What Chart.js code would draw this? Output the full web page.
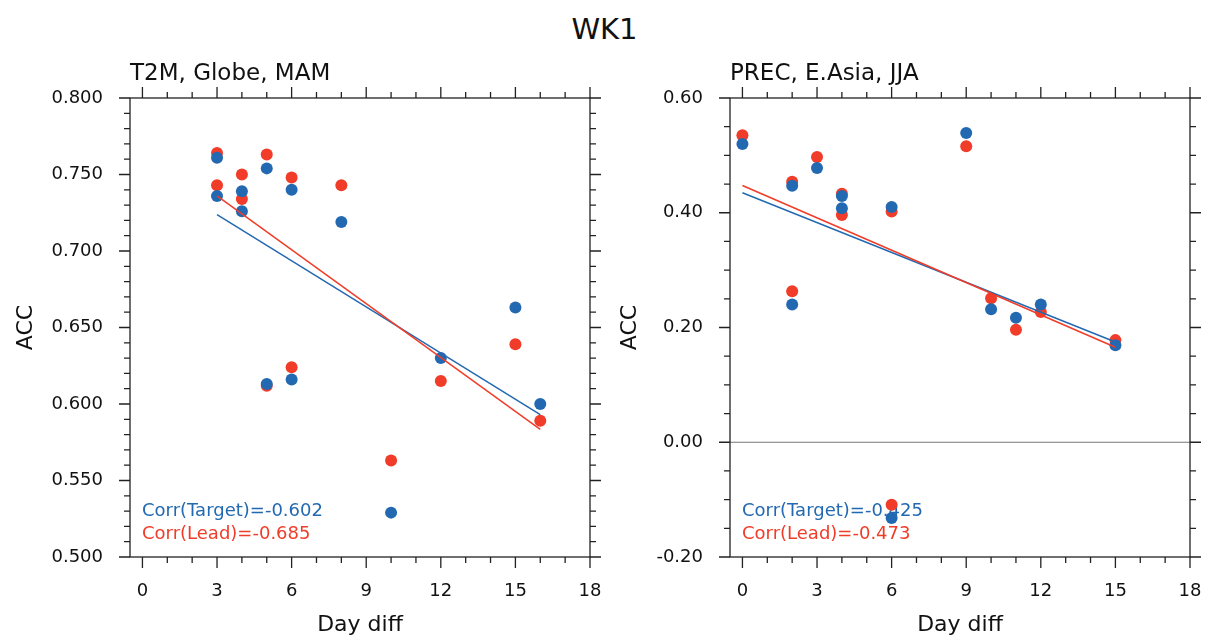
<!DOCTYPE html>
<html>
<head>
<meta charset="utf-8">
<script src="https://cdn.jsdelivr.net/npm/chart.js@4.4.1/dist/chart.umd.min.js"></script>
<style>
  body { margin: 0; background: #fff; }
  #wrap { position: relative; width: 1209px; height: 641px; }
  #title { position: absolute; left: 0; top: 12px; width: 1209px; text-align: center;
           font: 29px 'DejaVu Sans'; line-height: 34px; color: #111; }
  canvas { position: absolute; top: 0; }
</style>
</head>
<body>
<div id="wrap">
  <div id="title">WK1</div>
  <canvas id="left" width="604" height="641" style="left:0"></canvas>
  <canvas id="right" width="605" height="641" style="left:604px"></canvas>
</div>
<script>
// T2M, Globe, MAM
let t2mDays = [3, 3, 4, 4, 5, 5, 6, 6, 8, 10, 12, 15, 16];
let t2mTarget = [0.761, 0.736, 0.739, 0.726, 0.754, 0.613, 0.740, 0.616, 0.719, 0.529, 0.630, 0.663, 0.600];
let t2mLead = [0.764, 0.743, 0.750, 0.734, 0.763, 0.612, 0.748, 0.624, 0.743, 0.563, 0.615, 0.639, 0.589];
let t2mCorr = ['Corr(Target)=-0.602', 'Corr(Lead)=-0.685'];

// PREC, E.Asia, JJA
let precDays = [0, 2, 2, 3, 4, 4, 6, 6, 9, 10, 11, 12, 15];
let precTarget = [0.520, 0.447, 0.240, 0.478, 0.429, 0.408, 0.410, -0.132, 0.539, 0.232, 0.217, 0.240, 0.169];
let precLead = [0.535, 0.454, 0.263, 0.497, 0.433, 0.396, 0.402, -0.109, 0.516, 0.251, 0.196, 0.227, 0.178];
let precCorr = ['Corr(Target)=-0.425', 'Corr(Lead)=-0.473'];

let xTicks = [0, 3, 6, 9, 12, 15, 18];
let t2mTicks = [0.50, 0.55, 0.60, 0.65, 0.70, 0.75, 0.80];
let precTicks = [-0.2, 0.0, 0.2, 0.4, 0.6];

let blue = '#2369b1';
let red = '#f03c28';
let font = 'DejaVu Sans';

function pts(xs, ys) {
  return xs.map((x, i) => ({ x: x, y: ys[i] }));
}

// least squares line, drawn from first to last day
function fit(xs, ys) {
  let n = xs.length;
  let mx = xs.reduce((a, b) => a + b, 0) / n;
  let my = ys.reduce((a, b) => a + b, 0) / n;
  let sxy = 0, sxx = 0;
  xs.forEach((x, i) => { sxy += (x - mx) * (ys[i] - my); sxx += (x - mx) * (x - mx); });
  let b = sxy / sxx;
  let x0 = Math.min(...xs), x1 = Math.max(...xs);
  return [{ x: x0, y: my + b * (x0 - mx) }, { x: x1, y: my + b * (x1 - mx) }];
}

function framePlugin(sub, corr, yMinor, yEvery, zero) {
  return {
    id: 'frame',
    beforeDatasetsDraw(chart) {
      let { ctx, chartArea: a, scales: { y } } = chart;
      ctx.save();
      if (zero) {
        let py = y.getPixelForValue(0);
        ctx.strokeStyle = '#777';
        ctx.lineWidth = 1;
        ctx.beginPath();
        ctx.moveTo(a.left, py);
        ctx.lineTo(a.right, py);
        ctx.stroke();
      }
      ctx.font = '18px "' + font + '"';
      ctx.textBaseline = 'alphabetic';
      ctx.fillStyle = blue;
      ctx.fillText(corr[0], a.left + 12, 516);
      ctx.fillStyle = red;
      ctx.fillText(corr[1], a.left + 12, 539);
      ctx.restore();
    },
    afterDraw(chart) {
      let { ctx, chartArea: a, scales: { x, y } } = chart;
      ctx.save();
      ctx.strokeStyle = '#222';
      ctx.lineWidth = 1.3;
      ctx.strokeRect(a.left, a.top, a.right - a.left, a.bottom - a.top);
      ctx.beginPath();
      for (let v = 0; v <= 18; v++) {
        let px = x.getPixelForValue(v);
        let len = v % 3 === 0 ? 11 : 6;
        ctx.moveTo(px, a.bottom); ctx.lineTo(px, a.bottom + len);
        ctx.moveTo(px, a.top); ctx.lineTo(px, a.top - len);
      }
      let n = Math.round((y.max - y.min) / yMinor);
      for (let i = 0; i <= n; i++) {
        let py = y.getPixelForValue(y.min + i * yMinor);
        let len = i % yEvery === 0 ? 11 : 6;
        ctx.moveTo(a.left, py); ctx.lineTo(a.left - len, py);
        ctx.moveTo(a.right, py); ctx.lineTo(a.right + len, py);
      }
      ctx.stroke();
      ctx.fillStyle = '#111';
      ctx.font = '23px "' + font + '"';
      ctx.textBaseline = 'alphabetic';
      ctx.fillText(sub, a.left, a.top - 18);
      ctx.restore();
    }
  };
}

function makeChart(id, days, target, lead, opts) {
  return new Chart(document.getElementById(id), {
    type: 'scatter',
    data: {
      datasets: [
        { data: fit(days, lead), showLine: true, borderColor: red, borderWidth: 1.5, pointRadius: 0 },
        { data: fit(days, target), showLine: true, borderColor: blue, borderWidth: 1.5, pointRadius: 0 },
        { data: pts(days, target), backgroundColor: blue, borderColor: blue, pointRadius: 6, borderWidth: 0 },
        { data: pts(days, lead), backgroundColor: red, borderColor: red, pointRadius: 6, borderWidth: 0 }
      ]
    },
    options: {
      responsive: false,
      animation: false,
      layout: { padding: { top: 98, right: opts.padRight, left: 0, bottom: 0 } },
      plugins: { legend: { display: false }, tooltip: { enabled: false } },
      scales: {
        x: {
          type: 'linear', min: -0.5, max: 18,
          grid: { display: false, drawTicks: false },
          border: { display: false },
          afterBuildTicks: (s) => { s.ticks = xTicks.map(v => ({ value: v })); },
          ticks: { font: { family: font, size: 18 }, color: '#111', padding: 24, maxRotation: 0, autoSkip: false },
          title: { display: true, text: 'Day diff', color: '#111', font: { family: font, size: 22 }, padding: { top: 0, bottom: 3 } },
          afterFit: (s) => { s.height = 84; s.paddingLeft = 0; s.paddingRight = 0; }
        },
        y: {
          type: 'linear', min: opts.yTicks[0], max: opts.yTicks[opts.yTicks.length - 1],
          grid: { display: false, drawTicks: false },
          border: { display: false },
          afterBuildTicks: (s) => { s.ticks = opts.yTicks.map(v => ({ value: v })); },
          ticks: { font: { family: font, size: 18 }, color: '#111', padding: 27, autoSkip: false,
                   callback: (v) => v.toFixed(opts.digits) },
          title: { display: true, text: 'ACC', color: '#111', font: { family: font, size: 22 }, padding: { top: 13, bottom: 0 } },
          afterFit: (s) => { s.width = opts.yWidth; s.paddingTop = 0; s.paddingBottom = 0; }
        }
      }
    },
    plugins: [framePlugin(opts.sub, opts.corr, opts.yMinor, opts.yEvery, opts.zero)]
  });
}

makeChart('left', t2mDays, t2mTarget, t2mLead, {
  sub: 'T2M, Globe, MAM', corr: t2mCorr, yTicks: t2mTicks, digits: 3,
  yMinor: 0.01, yEvery: 5, zero: false, yWidth: 130, padRight: 14
});
makeChart('right', precDays, precTarget, precLead, {
  sub: 'PREC, E.Asia, JJA', corr: precCorr, yTicks: precTicks, digits: 2,
  yMinor: 0.05, yEvery: 4, zero: true, yWidth: 126, padRight: 19
});
</script>
</body>
</html>
